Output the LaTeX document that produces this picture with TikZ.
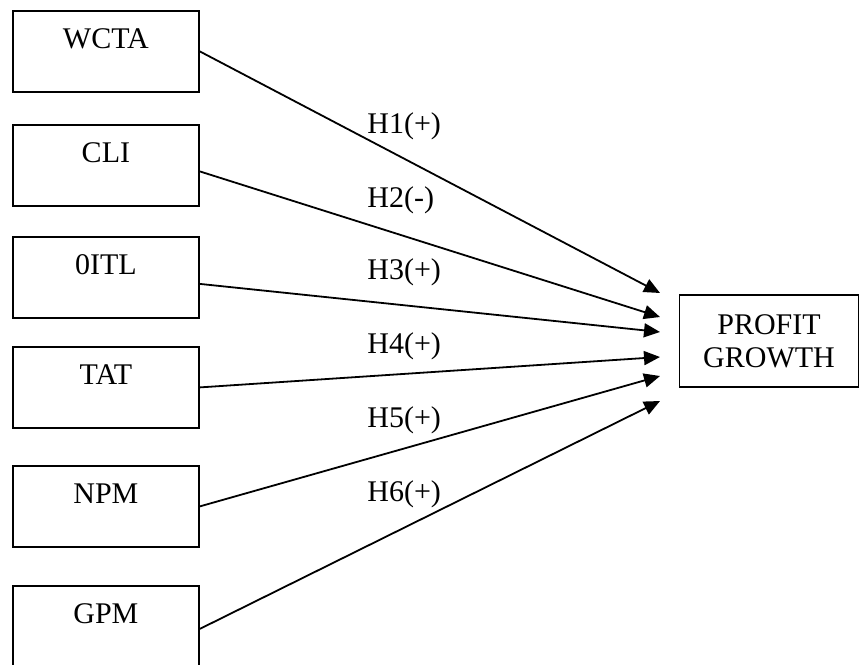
\documentclass[tikz,border=0pt]{standalone}
\usepackage{fontspec}
\setmainfont{Liberation Serif}
\usetikzlibrary{arrows.meta,calc}
\begin{document}
\begin{tikzpicture}[x=0.5pt,y=-0.5pt,
  every node/.style={font=\fontsize{15}{16.5}\selectfont},
  varbox/.style={draw, line width=0.9pt, inner sep=0pt, minimum width=93pt, text height=19pt, text depth=21.5pt, anchor=north west},
  outbox/.style={draw, line width=0.9pt, inner sep=0pt, minimum width=89.5pt, minimum height=46pt, align=center},
  link/.style={line width=0.9pt, -{Triangle[length=8pt,width=7pt]}},
  hlabel/.style={anchor=base west, inner sep=0pt}
]
\useasboundingbox (0,0) rectangle (860,664);
\node[varbox] (wcta) at (12,10) {WCTA};
\node[varbox] (cli) at (12,124) {CLI};
\node[varbox] (oitl) at (12,236) {0ITL};
\node[varbox] (tat) at (12,346) {TAT};
\node[varbox] (npm) at (12,465) {NPM};
\node[varbox] (gpm) at (12,585) {GPM};
\node[outbox] (pg) at (769,341) {PROFIT\\GROWTH};
\coordinate (e1) at (660,293);
\coordinate (e2) at (660,317);
\coordinate (e3) at (660,332);
\coordinate (e4) at (660,357);
\coordinate (e5) at (660,376);
\coordinate (e6) at (660,401);
\draw[link] ([yshift=0pt]wcta.east) -- (e1);
\draw[link] ([yshift=-3pt]cli.east) -- (e2);
\draw[link] ([yshift=-3.25pt]oitl.east) -- (e3);
\draw[link] ([yshift=0pt]tat.east) -- (e4);
\draw[link] ([yshift=0pt]npm.east) -- (e5);
\draw[link] ([yshift=-1.25pt]gpm.east) -- (e6);
\node[hlabel] (h1) at (367,133) {H1(+)};
\node[hlabel] (h2) at (367,207) {H2(-)};
\node[hlabel] (h3) at (367,279) {H3(+)};
\node[hlabel] (h4) at (367,353) {H4(+)};
\node[hlabel] (h5) at (367,427) {H5(+)};
\node[hlabel] (h6) at (367,501) {H6(+)};
\end{tikzpicture}
\end{document}
